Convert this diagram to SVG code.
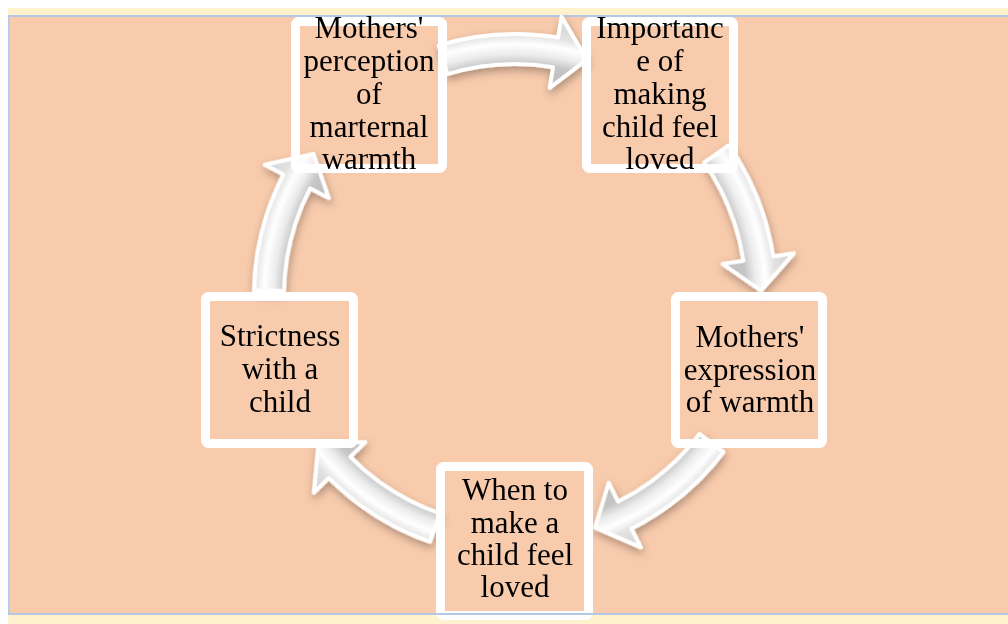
<svg xmlns="http://www.w3.org/2000/svg" xmlns:xlink="http://www.w3.org/1999/xlink" width="1008" height="624" viewBox="0 0 1008 624">
<style>
.box{fill:none;stroke:#ffffff;stroke-width:9;}
.lbl{font-family:"Liberation Serif","Times New Roman",serif;font-size:31px;fill:#000000;text-anchor:middle;}
.frame{stroke:#b4c7e7;fill:none;}
</style>
<defs>
<radialGradient id="arrowGrad" gradientUnits="userSpaceOnUse" cx="515" cy="295" r="285">
<stop offset="0.737" stop-color="#bdbdbd"/>
<stop offset="0.81" stop-color="#c6c6c6"/>
<stop offset="0.845" stop-color="#ececec"/>
<stop offset="0.88" stop-color="#ffffff"/>
<stop offset="0.915" stop-color="#e2e2e2"/>
<stop offset="0.99" stop-color="#d0d0d0"/>
</radialGradient>
<filter id="shadow" x="-10%" y="-10%" width="120%" height="120%">
<feDropShadow dx="1" dy="4" stdDeviation="4" flood-color="#000000" flood-opacity="0.3"/>
</filter>
<path id="arrow" d="M438.69,45.41 A261,261 0 0 1 558.08,37.58 L561.54,16.87 L586.92,59.75 L549.66,87.88 L553.13,67.17 A231,231 0 0 0 447.46,74.09 Z" fill="url(#arrowGrad)" stroke="#ffffff" stroke-width="4" stroke-linejoin="round"/>
</defs>
<rect x="0" y="0" width="1008" height="624" fill="#ffffff"/>
<rect x="8" y="8" width="1000" height="616" fill="#fff2cc"/>
<rect x="9" y="17" width="999" height="596" fill="#f8cbad"/>
<line class="frame" x1="8" y1="16" x2="1008" y2="16" stroke-width="2"/>
<line class="frame" x1="8.7" y1="15" x2="8.7" y2="615" stroke-width="1.5"/>
<g id="connectors" filter="url(#shadow)">
<use href="#arrow" xlink:href="#arrow"/>
<use href="#arrow" xlink:href="#arrow" transform="rotate(72 515 295)"/>
<use href="#arrow" xlink:href="#arrow" transform="rotate(144 515 295)"/>
<use href="#arrow" xlink:href="#arrow" transform="rotate(216 515 295)"/>
<use href="#arrow" xlink:href="#arrow" transform="rotate(288 515 295)"/>
</g>
<g id="node1">
<rect class="box" x="295.5" y="21.5" width="147" height="147" rx="3"/>
<text class="lbl" x="369" y="38">Mothers'</text>
<text class="lbl" x="369" y="71">perception</text>
<text class="lbl" x="369" y="104">of</text>
<text class="lbl" x="369" y="137">marternal</text>
<text class="lbl" x="369" y="169">warmth</text>
</g>
<g id="node2">
<rect class="box" x="586.5" y="21.5" width="147" height="147" rx="3"/>
<text class="lbl" x="660" y="38">Importanc</text>
<text class="lbl" x="660" y="71">e of</text>
<text class="lbl" x="660" y="104">making</text>
<text class="lbl" x="660" y="137">child feel</text>
<text class="lbl" x="660" y="169">loved</text>
</g>
<g id="node3">
<rect class="box" x="675.5" y="296.5" width="147" height="147" rx="3"/>
<text class="lbl" x="750" y="347">Mothers'</text>
<text class="lbl" x="750" y="380">expression</text>
<text class="lbl" x="750" y="412">of warmth</text>
</g>
<g id="node4">
<rect class="box" x="205.5" y="296.5" width="148" height="147" rx="3"/>
<text class="lbl" x="280" y="346">Strictness</text>
<text class="lbl" x="280" y="379">with a</text>
<text class="lbl" x="280" y="412">child</text>
</g>
<g id="node5">
<rect class="box" x="440.5" y="466.5" width="148" height="149" rx="3"/>
<text class="lbl" x="515" y="500">When to</text>
<text class="lbl" x="515" y="533">make a</text>
<text class="lbl" x="515" y="565">child feel</text>
<text class="lbl" x="515" y="597">loved</text>
</g>
<line class="frame" x1="8" y1="614" x2="1008" y2="614" stroke-width="1.8"/>
</svg>
